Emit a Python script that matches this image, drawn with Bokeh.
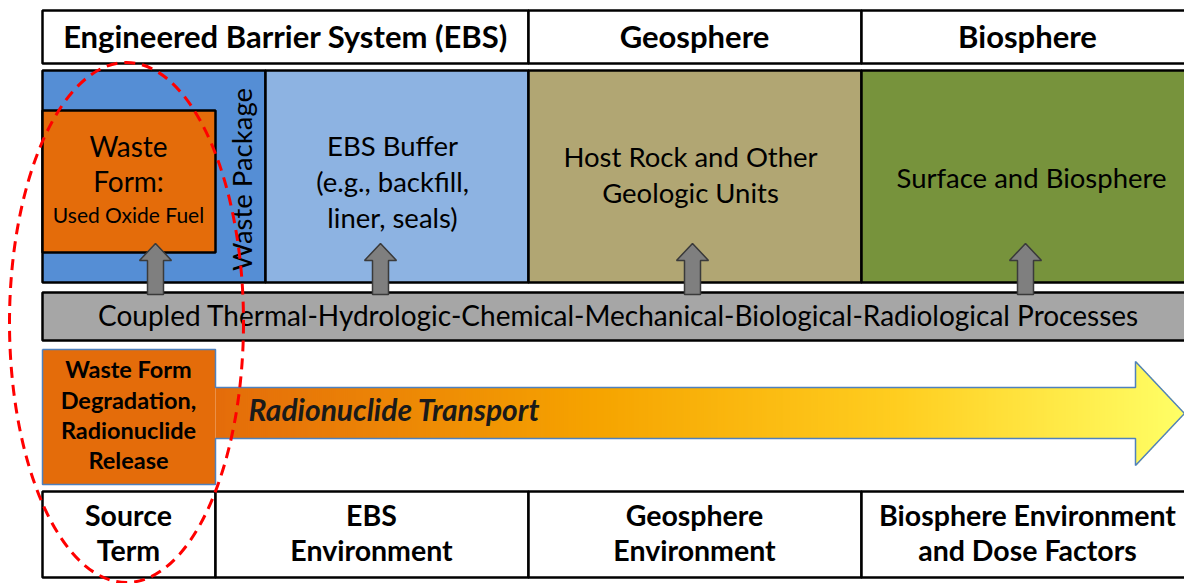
from bokeh.plotting import figure
from bokeh.models import Range1d
from bokeh.core.properties import value
from bokeh.embed import file_html
from bokeh.resources import INLINE
import math

# ---- content ----
header_labels = ["Engineered Barrier System (EBS)", "Geosphere", "Biosphere"]
region_labels = [["EBS Buffer", "(e.g., backfill,", "liner, seals)"],
                 ["Host Rock and Other", "Geologic Units"],
                 ["Surface and Biosphere"]]
waste_form_lines = ["Waste", "Form:"]
waste_form_sub = "Used Oxide Fuel"
package_label = "Waste Package"
process_label = "Coupled Thermal-Hydrologic-Chemical-Mechanical-Biological-Radiological Processes"
release_lines = ["Waste Form", "Degradation,", "Radionuclide", "Release"]
transport_label = "Radionuclide Transport"
bottom_labels = [["Source", "Term"], ["EBS", "Environment"],
                 ["Geosphere", "Environment"], ["Biosphere Environment", "and Dose Factors"]]

# ---- layout (pixel-like coordinates, y downward) ----
X0, X_EBS, X_GEO, XR = 42, 528, 861, 1200
XWP, XWF = 265, 215
FONT = "Lato"
DY = -2.5

p = figure(width=1184, height=583, x_range=Range1d(0, 1184), y_range=Range1d(583, 0),
           x_axis_type=None, y_axis_type=None, toolbar_location=None,
           output_backend="svg", min_border=0)
p.outline_line_color = None
p.grid.visible = False
p.background_fill_color = "white"


def box(l, r, t, b, fill, line="black", lw=2.5):
    p.quad(left=[l], right=[r], top=[t], bottom=[b], fill_color=fill,
           line_color=line, line_width=lw)


def txt(x, y, s, size, bold=False, italic=False, angle=0.0, align="center", color="black"):
    style = "normal"
    if bold and italic:
        style = "bold italic"
    elif bold:
        style = "bold"
    elif italic:
        style = "italic"
    yy = y if angle else y + DY
    p.text(x=[x], y=[yy], text=[s], text_font=value(FONT), text_font_size=f"{size}px",
           text_font_style=style, text_align=align, text_baseline="middle",
           text_color=color, angle=angle)


# header row
hx = [X0, X_EBS, X_GEO, XR]
hcent = [285, 694, 1027]
for i, lab in enumerate(header_labels):
    box(hx[i], hx[i + 1], 10, 63, "white")
    txt(hcent[i], 38, lab, 31, bold=True)

# region row
box(X0, XWP, 70, 282, "#558ED5")
box(XWP, X_EBS, 70, 282, "#8DB3E2")
box(X_EBS, X_GEO, 70, 282, "#B1A673")
box(X_GEO, XR, 70, 282, "#77933C")
box(X0, XWF, 110, 252, "#E46C0A")

# process bar
box(X0, XR, 292, 340, "#A6A6A6")
txt(618, 317, process_label, 28)

# up arrows
for cx in [155, 380, 692, 1025]:
    xs = [cx - 8, cx - 8, cx - 16, cx, cx + 16, cx + 8, cx + 8]
    ys = [294, 260, 260, 243, 260, 260, 294]
    p.patch(xs, ys, fill_color="#7F7F7F", line_color="#3A3A3A", line_width=1.5)

# region texts
txt(128, 148, waste_form_lines[0], 28)
txt(128, 183, waste_form_lines[1], 28)
txt(128, 216, waste_form_sub, 21)
txt(241, 179, package_label, 27.5, angle=math.pi / 2)
rcent = [(392, [147, 183, 219]), (690, [158, 194]), (1031, [179])]
for (cx, ys), lines in zip(rcent, region_labels):
    for yy, s in zip(ys, lines):
        txt(cx, yy, s, 27.5)

# transport arrow with gradient
SH_T, SH_B, HX, TIP, HD_T, HD_B, YM = 387, 438, 1135, 1184, 361, 465, 413
stops = [(215, (0xE4, 0x6C, 0x0A)), (600, (0xF6, 0xA4, 0x00)),
         (900, (0xFF, 0xCE, 0x20)), (1184, (0xFF, 0xFF, 0x66))]


def grad(x):
    for (x1, c1), (x2, c2) in zip(stops[:-1], stops[1:]):
        if x <= x2:
            f = (x - x1) / (x2 - x1)
            return "#%02x%02x%02x" % tuple(int(round(a + (b - a) * f)) for a, b in zip(c1, c2))
    return "#ffff66"


step = 2
ls, rs, ts, bs, cs = [], [], [], [], []
x = XWF
while x < TIP:
    xr = min(x + step, TIP)
    xc = (x + xr) / 2
    if xc < HX:
        t, b = SH_T, SH_B
    else:
        f = (xc - HX) / (TIP - HX)
        t = HD_T + (YM - HD_T) * f
        b = HD_B - (HD_B - YM) * f
    ls.append(x); rs.append(xr + 0.6); ts.append(t); bs.append(b); cs.append(grad(xc))
    x = xr
p.quad(left=ls, right=rs, top=ts, bottom=bs, fill_color=cs, line_color=None)

p.quad(left=[X0], right=[XWF], top=[349], bottom=[484], fill_color="#E46C0A", line_color=None)
ox = [X0, XWF, XWF, HX, HX, TIP, HX, HX, XWF, XWF, X0, X0]
oy = [349, 349, SH_T, SH_T, HD_T, YM, HD_B, SH_B, SH_B, 484, 484, 349]
p.line(ox, oy, line_color="#4F81BD", line_width=1.5)

for yy, s in zip([371, 402, 432, 462], release_lines):
    txt(128, yy, s, 23.5, bold=True)
txt(248, 411, transport_label, 30, bold=True, italic=True, align="left", color="#1A1A1A")

# bottom row
bx = [X0, XWF, X_EBS, X_GEO, XR]
bcent = [128, 371, 694, 1027]
for i, lines in enumerate(bottom_labels):
    box(bx[i], bx[i + 1], 491, 577, "white")
    for yy, s in zip([517, 552], lines):
        txt(bcent[i], yy, s, 28.5, bold=True)

# red dashed ellipse
p.ellipse(x=[126], y=[322], width=[234], height=[520], fill_color=None,
          line_color="#FF0000", line_width=3, line_dash="11 7")

open("out.html", "w").write(file_html(p, INLINE))
